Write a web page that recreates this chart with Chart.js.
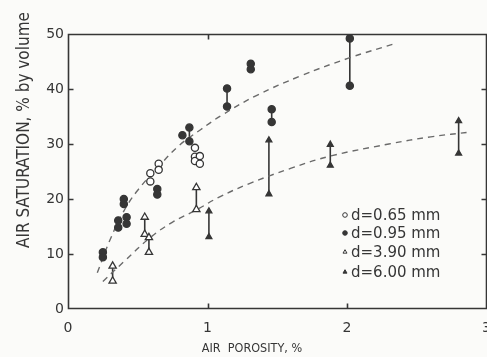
<!DOCTYPE html>
<html>
<head>
<meta charset="utf-8">
<script src="https://cdn.jsdelivr.net/npm/chart.js@4/dist/chart.umd.min.js"></script>
<style>
  html, body { margin: 0; padding: 0; overflow: hidden; background: #fbfbf9; }
  #wrap { width: 502px; height: 357px; }
</style>
</head>
<body>
<div id="wrap"><canvas id="chart" width="502" height="357"></canvas></div>
<script>
// values (x = air porosity %, y = air saturation %)
const x065 = [0.59, 0.59, 0.65, 0.65, 0.91, 0.91, 0.91, 0.945, 0.945];
const y065 = [24.7, 23.2, 26.4, 25.3, 29.3, 27.7, 26.9, 27.8, 26.4];

const x095 = [0.25, 0.25, 0.36, 0.36, 0.40, 0.40, 0.42, 0.42, 0.64, 0.64, 0.82, 0.87, 0.87,
              1.14, 1.14, 1.31, 1.31, 1.46, 1.46, 2.02, 2.02];
const y095 = [10.3, 9.4, 16.1, 14.8, 20.0, 19.1, 16.7, 15.5, 21.8, 20.8, 31.6, 33.0, 30.5,
              40.1, 36.8, 44.6, 43.6, 36.3, 34.0, 49.2, 40.6];

const x390 = [0.32, 0.32, 0.55, 0.55, 0.58, 0.58, 0.92, 0.92];
const y390 = [7.8, 5.1, 16.7, 13.6, 13.0, 10.3, 22.1, 18.1];

const x600 = [1.01, 1.01, 1.44, 1.44, 1.88, 1.88, 2.80, 2.80];
const y600 = [17.8, 13.1, 30.7, 20.9, 29.9, 26.1, 34.2, 28.3];

// vertical range bars joining paired readings
const barX    = [0.32, 0.55, 0.58, 0.92, 1.01, 1.44, 1.88, 2.80, 0.87, 1.14, 1.46, 2.02];
const barLow  = [5.1, 13.6, 10.3, 18.1, 13.1, 20.9, 26.1, 28.3, 30.5, 36.8, 34.0, 40.6];
const barHigh = [7.8, 16.7, 13.0, 22.1, 17.8, 30.7, 29.9, 34.2, 33.0, 40.1, 36.3, 49.2];

// dashed trend curves
const upperX = [0.21, 0.3, 0.4, 0.5, 0.66, 0.8, 0.95, 1.1, 1.35, 1.67, 2.01, 2.36];
const upperY = [6.6, 12.5, 17.8, 21.6, 26.2, 29.8, 32.6, 35.2, 38.8, 42.4, 45.6, 48.4];
const lowerX = [0.25, 0.4, 0.59, 0.75, 0.92, 1.08, 1.3, 1.6, 1.88, 2.3, 2.6, 2.89];
const lowerY = [5.0, 8.6, 13.0, 15.8, 18.0, 20.3, 22.8, 25.6, 27.8, 30.0, 31.3, 32.2];

const xTicks = [0, 1, 2, 3];
const yTicks = [0, 10, 20, 30, 40, 50];

const legendLabels = ['d=0.65 mm', 'd=0.95 mm', 'd=3.90 mm', 'd=6.00 mm'];

const ink = '#363636';
const narrow = '"Liberation Sans Narrow", "DejaVu Sans Condensed", "DejaVu Sans", sans-serif';
const pts = (xs, ys) => xs.map((x, i) => ({x: x, y: ys[i]}));

const barPts = [];
barX.forEach((x, i) => {
  barPts.push({x: x, y: barLow[i]}, {x: x, y: barHigh[i]}, {x: x, y: null});
});

const markers = [
  {style: 'circle', fill: '#ffffff', r: 3.6},
  {style: 'circle', fill: ink, r: 3.6},
  {style: 'triangle', fill: '#ffffff', r: 4.2},
  {style: 'triangle', fill: ink, r: 3.4},
];

const framePlugin = {
  id: 'frame',
  beforeDraw(chart) {
    const c = chart.ctx;
    c.save();
    c.fillStyle = '#fbfbf9';
    c.fillRect(0, 0, chart.width, chart.height);
    c.restore();
  },
  afterDatasetsDraw(chart) {
    const c = chart.ctx;
    const a = chart.chartArea;
    const xs = chart.scales.x, ys = chart.scales.y;
    const L = Math.round(a.left) + 0.5, R = Math.round(a.right) - 0.5;
    const T = Math.round(a.top) + 0.5, B = Math.round(a.bottom) - 0.5;
    c.save();
    c.setLineDash([]);
    c.strokeStyle = ink;
    c.lineWidth = 1.6;
    c.beginPath();
    c.moveTo(L, T); c.lineTo(R, T); c.lineTo(R, B); c.lineTo(L, B); c.closePath();
    // inward tick marks on all four sides
    xTicks.slice(1, -1).forEach(v => {
      const p = Math.round(xs.getPixelForValue(v)) + 0.5;
      c.moveTo(p, B); c.lineTo(p, B - 5);
      c.moveTo(p, T); c.lineTo(p, T + 5);
    });
    yTicks.slice(1, -1).forEach(v => {
      const p = Math.round(ys.getPixelForValue(v)) + 0.5;
      c.moveTo(L, p); c.lineTo(L + 5, p);
      c.moveTo(R, p); c.lineTo(R - 5, p);
    });
    c.stroke();
    c.restore();
  },
  afterDraw(chart) {
    const c = chart.ctx;
    c.save();
    // axis titles
    c.fillStyle = ink;
    c.textAlign = 'center';
    c.textBaseline = 'middle';
    c.font = '12.5px ' + narrow;
    c.fillText('AIR  POROSITY, %', 252, 349);
    c.translate(25, 130);
    c.rotate(-Math.PI / 2);
    c.font = '17px ' + narrow;
    c.fillText('AIR SATURATION, % by volume', 0, 0);
    c.restore();

    // legend
    c.save();
    c.font = '15px "DejaVu Sans"';
    c.textAlign = 'left';
    c.textBaseline = 'middle';
    const rows = [215, 233, 252, 272];
    legendLabels.forEach((t, i) => {
      const m = markers[i];
      c.strokeStyle = ink;
      c.lineWidth = 1;
      c.fillStyle = m.fill;
      Chart.helpers.drawPoint(c, {pointStyle: m.style, radius: 2.3, borderWidth: 1}, 345, rows[i]);
      c.fillStyle = ink;
      c.fillText(t, 351, rows[i] + 1);
    });
    c.restore();
  }
};

function markerSet(label, xs, ys, m) {
  return {
    label: label,
    data: pts(xs, ys),
    pointStyle: m.style,
    pointRadius: m.r,
    pointBackgroundColor: m.fill,
    pointBorderColor: ink,
    pointBorderWidth: 1.3,
    showLine: false,
    order: 0,
  };
}

new Chart(document.getElementById('chart'), {
  type: 'scatter',
  data: {
    datasets: [
      markerSet(legendLabels[0], x065, y065, markers[0]),
      markerSet(legendLabels[1], x095, y095, markers[1]),
      markerSet(legendLabels[2], x390, y390, markers[2]),
      markerSet(legendLabels[3], x600, y600, markers[3]),
      {
        label: 'bars', data: barPts, showLine: true, spanGaps: false,
        borderColor: ink, borderWidth: 1.6, pointRadius: 0, order: 10,
      },
      {
        label: 'upper', data: pts(upperX, upperY), showLine: true, tension: 0.4,
        borderColor: '#6a6a6a', borderWidth: 1.4, borderDash: [6, 5], pointRadius: 0, order: 5,
      },
      {
        label: 'lower', data: pts(lowerX, lowerY), showLine: true, tension: 0.4,
        borderColor: '#6a6a6a', borderWidth: 1.4, borderDash: [6, 5], pointRadius: 0, order: 5,
      },
    ]
  },
  options: {
    responsive: false,
    animation: false,
    layout: {padding: {left: 0, right: 10, top: 34, bottom: 0}},
    plugins: {legend: {display: false}, tooltip: {enabled: false}},
    scales: {
      x: {
        type: 'linear', min: 0, max: 3,
        afterBuildTicks: s => { s.ticks = xTicks.map(v => ({value: v})); },
        afterFit: s => { s.height = 48; },
        grid: {display: false, drawTicks: false},
        border: {display: false},
        ticks: {color: ink, padding: 11, font: {family: 'DejaVu Sans', size: 14}},
      },
      y: {
        type: 'linear', min: 0, max: 50,
        afterBuildTicks: s => { s.ticks = yTicks.map(v => ({value: v})); },
        afterFit: s => { s.width = 68; },
        grid: {display: false, drawTicks: false},
        border: {display: false},
        ticks: {color: ink, padding: 4, font: {family: 'DejaVu Sans', size: 14}},
      }
    }
  },
  plugins: [framePlugin]
});
</script>
</body>
</html>
